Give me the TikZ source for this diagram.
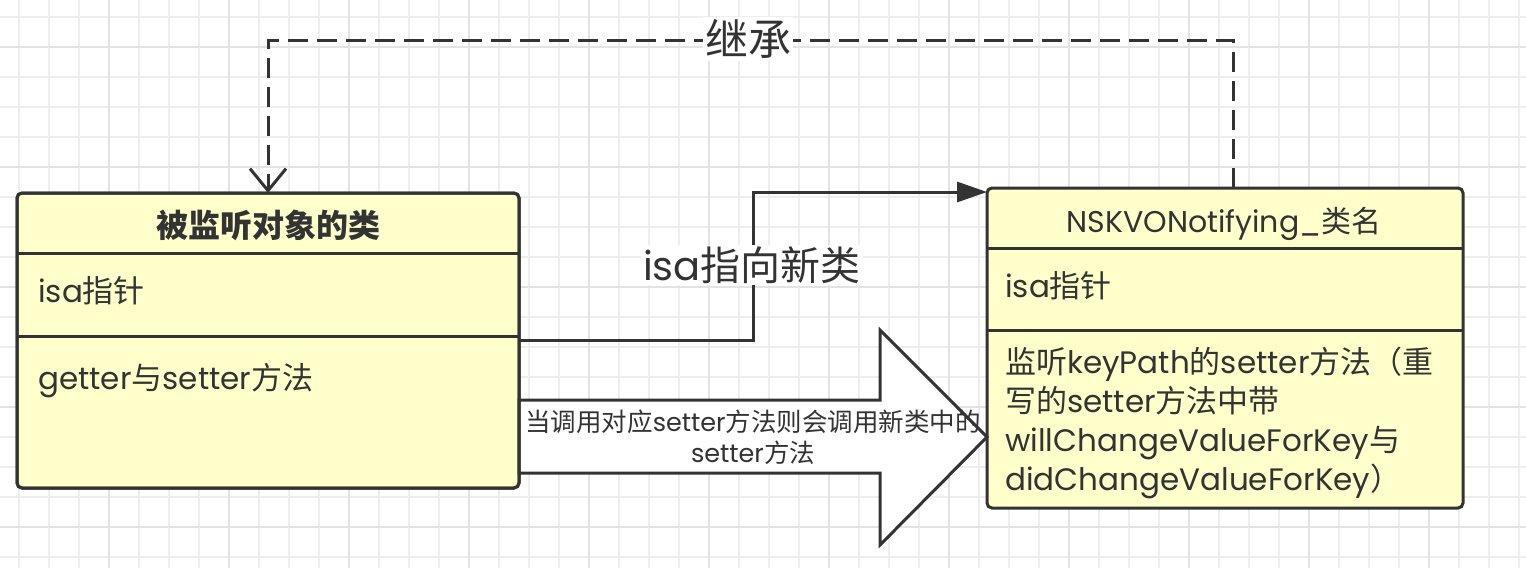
\documentclass[tikz,border=0pt]{standalone}
\usepackage{fontspec}
\setmainfont{Poppins}
\newfontfamily\cjk{Noto Sans CJK SC}
\newcommand{\zh}[1]{{\cjk #1}}
\usetikzlibrary{arrows.meta}

\definecolor{linegray}{HTML}{333333}
\definecolor{boxyellow}{HTML}{FFFFCC}
\definecolor{gridminor}{HTML}{EEEEEE}
\definecolor{gridmajor}{HTML}{E3E3E3}

\tikzset{
  classbox/.style={draw=linegray, line width=3pt, fill=boxyellow, rounded corners=5pt, inner sep=0pt, outer sep=0pt},
  divider/.style={draw=linegray, line width=3pt},
  member/.style={anchor=base west, inner sep=0pt, text=linegray, font=\fontsize{31}{39}\selectfont, align=left},
  classtitle/.style={anchor=base, inner sep=0pt, text=linegray, font=\fontsize{30}{34}\selectfont},
  biglabel/.style={fill=white, inner sep=2pt, text=linegray, font=\fontsize{40}{46}\selectfont},
  calllabel/.style={inner sep=0pt, text=linegray, align=center, font=\fontsize{25.5}{31}\selectfont},
  inherit/.style={draw=linegray, line width=3pt, dash pattern=on 20pt off 9pt, -{Straight Barb[length=22pt,width=36pt]}},
  isaline/.style={draw=linegray, line width=3pt, -{Triangle[length=30pt,width=20pt]}},
  blockarrow/.style={draw=linegray, line width=3pt, fill=white, line join=miter},
}

\begin{document}
\begin{tikzpicture}[x=1pt, y=-1pt]
  \useasboundingbox (0,0) rectangle (1526,568);
  \fill[white] (0,0) rectangle (1526,568);

  % grid
  \foreach \gx in {19,49,...,1519}
    \draw[gridminor, line width=1.5pt] (\gx,0) -- (\gx,568);
  \foreach \gy in {17,47,...,557}
    \draw[gridminor, line width=1.5pt] (0,\gy) -- (1526,\gy);
  \foreach \gx in {109,229,...,1429}
    \draw[gridmajor, line width=1.5pt] (\gx,0) -- (\gx,568);
  \foreach \gy in {47,167,...,527}
    \draw[gridmajor, line width=1.5pt] (0,\gy) -- (1526,\gy);

  % classes
  \node[classbox, minimum width=502pt, minimum height=295pt] (obj) at (268,340.5) {};
  \node[classbox, minimum width=476pt, minimum height=320pt] (nsk) at (1225,348) {};

  % big arrow between the classes
  \draw[blockarrow] ([yshift=-59.5pt]obj.east) -- ++(361,0) -- ++(0,-70)
    -- ([yshift=-89pt]nsk.west) -- ++(-107,108) -- ++(0,-72) -- ++(-361,0) -- cycle;
  \draw[classbox, fill=none] (obj.south west) rectangle (obj.north east);

  \draw[divider] (obj.west |- 0,253) -- (obj.east |- 0,253);
  \draw[divider] (obj.west |- 0,336) -- (obj.east |- 0,336);
  \draw[divider] (nsk.west |- 0,248) -- (nsk.east |- 0,248);
  \draw[divider] (nsk.west |- 0,330) -- (nsk.east |- 0,330);

  \node[classtitle, font=\fontsize{32}{36}\selectfont] (objtitle) at (268,237) {\bfseries\zh{被监听对象的类}};
  \node[member] (objisa) at (38,302) {isa\zh{指针}};
  \node[member] (objacc) at (38,389) {getter\zh{与}setter\zh{方法}};

  \node[classtitle] (nsktitle) at (1224,232) {NSKVONotifying\_\zh{类名}};
  \node[member] (nskisa) at (1005,297) {isa\zh{指针}};
  \node[member] (nskset) at (1005,490) {\zh{监听}keyPath\zh{的}setter\zh{方法（重}\\
    \zh{写的}setter\zh{方法中带}\\
    willChangeValueForKey\zh{与}\\
    didChangeValueForKey\zh{）}};

  % connectors
  \coordinate (inhtop) at (748,40);
  \draw[inherit] ([xshift=8pt]nsk.north) |- (inhtop) -| (obj.north);
  \draw[isaline] (obj.east) -- ++(234,0) |- ([yshift=-4pt]nsk.north west);

  % labels
  \node[biglabel, font=\fontsize{43}{48}\selectfont] (inhlbl) at (748,39) {\zh{继承}};
  \node[biglabel] (isalbl) at (752,265) {isa\zh{指向新类}};
  \node[calllabel] (calllbl) at (753,437) {\zh{当调用对应}setter\zh{方法则会调用新类中的}\\setter\zh{方法}};
\end{tikzpicture}
\end{document}
